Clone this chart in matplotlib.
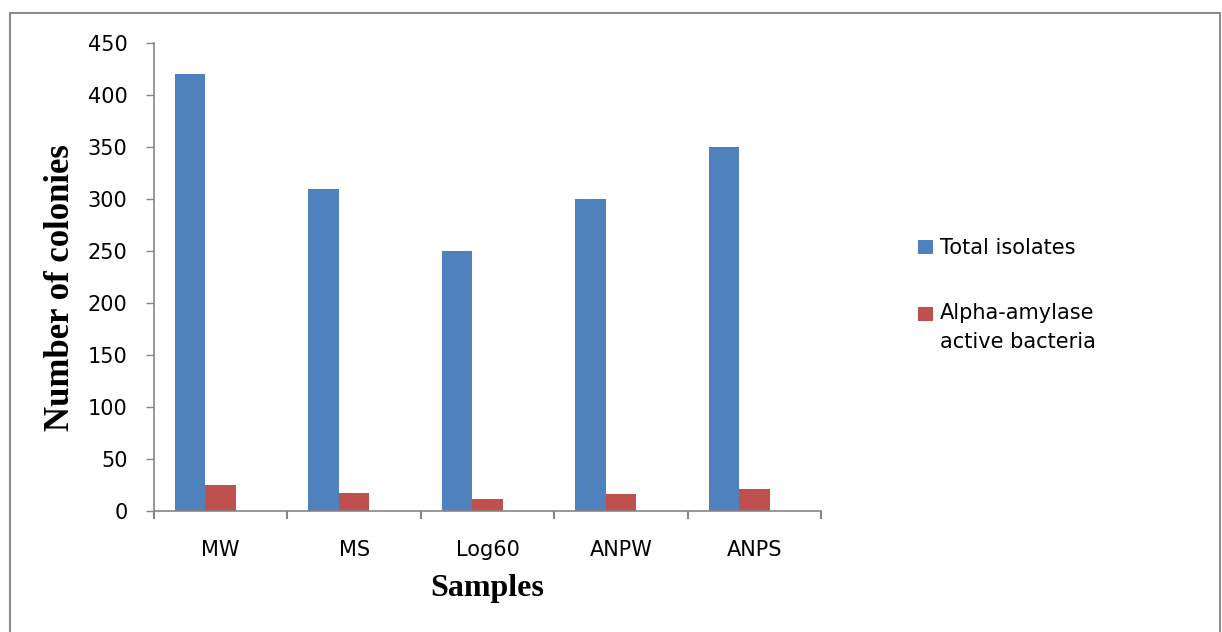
import numpy as np
import matplotlib.pyplot as plt
from matplotlib.patches import Rectangle

samples = ["MW", "MS", "Log60", "ANPW", "ANPS"]
total_isolates = [420, 310, 250, 300, 350]
amylase_active = [25, 17, 12, 16, 21]
series_names = ["Total isolates", "Alpha-amylase\nactive bacteria"]

blue = "#4f81bd"
red = "#c0504d"
grey = "#868686"

fig = plt.figure(figsize=(12.22, 6.32), dpi=100)
ax = fig.add_axes([154/1222, 121/632, 667/1222, 468/632])

x = np.arange(len(samples))
w = 0.228
ax.bar(x - w, total_isolates, w, color=blue, label=series_names[0])
ax.bar(x, amylase_active, w, color=red, label=series_names[1])

ax.set_xlim(-0.5, len(samples) - 0.5)
ax.set_ylim(0, 450)
ax.set_yticks(range(0, 451, 50))

# category ticks sit between the groups, like excel
ax.set_xticks(x)
ax.set_xticklabels(samples)
ax.set_xticks(np.arange(-0.5, len(samples)), minor=True)
ax.tick_params(axis="x", which="major", length=0, pad=21, labelsize=15)
ax.tick_params(axis="x", which="minor", length=6, width=1.5, color=grey)
ax.tick_params(axis="y", length=6, width=1, color=grey, pad=13, labelsize=15)

for s in ["top", "right"]:
    ax.spines[s].set_visible(False)
for s in ["left", "bottom"]:
    ax.spines[s].set_color(grey)
    ax.spines[s].set_linewidth(1.2)

ax.set_ylabel("Number of colonies", family="Liberation Serif", fontweight="bold", fontsize=25)
ax.yaxis.set_label_coords(-0.116, 0.478)
ax.set_xlabel("Samples", family="Liberation Serif", fontweight="bold", fontsize=23)
ax.xaxis.set_label_coords(0.5, -0.135)

leg = fig.legend(loc="upper left", bbox_to_anchor=(908/1222, 1 - 228/632), frameon=False,
                 fontsize=15, handlelength=0.7, handleheight=0.7, handletextpad=0.35,
                 labelspacing=2.13, borderpad=0)
for t in leg.get_texts():
    t.set_linespacing(1.55)
# square next to the first line of the two-line label, as excel does
h = leg.legend_handles[1]
h.set_y(h.get_y() + 10)

# grey frame round the whole chart
fig.add_artist(Rectangle((10/1222, -0.02), 1210/1222, 1.02 - 12.5/632, transform=fig.transFigure,
                         fill=False, edgecolor="#8c8c8c", linewidth=1.5))

fig.savefig("out.png", dpi=100)
